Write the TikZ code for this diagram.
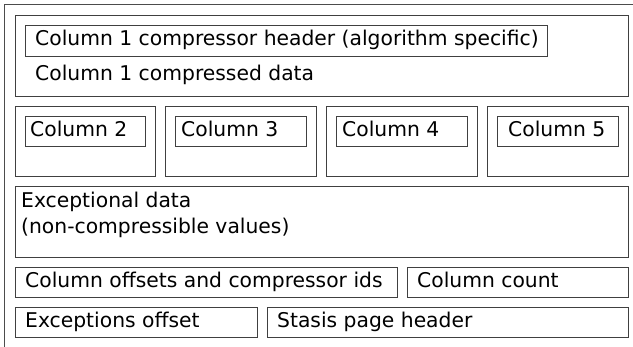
\documentclass[tikz,border=0pt]{standalone}
\usepackage{fontspec}
\setmainfont{DejaVu Sans}
\tikzset{
  frame/.style={draw=black!70, line width=1pt},
  blk/.style={draw=black!75, line width=1pt, anchor=north west, inner sep=0pt, minimum height=#1},
  slot/.style n args={3}{draw=black!75, line width=1pt, anchor=north west, inner sep=0pt,
    minimum width=#1, minimum height=30,
    label={[anchor=base west, inner sep=0pt, xshift=#2pt, yshift=-5pt]west:#3}},
}
\begin{document}
\begin{tikzpicture}[x=1pt, y=-1pt, font=\fontsize{20.3}{26}\selectfont]
    \useasboundingbox (0,0) rectangle (633,347);
    \clip (0,0) rectangle (633,347);
    \draw[frame] (4,5) rectangle (660,370);
    % column 1
    \node[blk=81, minimum width=613] (col1) at (15,15) {};
    \node[slot={522}{10}{Column 1 compressor header (algorithm specific)}, minimum height=31] (hdr1) at (25,25) {};
    \node[anchor=base west, inner sep=0pt] (data1) at (35,81) {Column 1 compressed data};
    % columns 2 to 5
    \foreach \n/\x/\w/\off in {2/15/140/5, 3/165/151/6, 4/326/151/6, 5/487/141/11}{
      \node[blk=70, minimum width=\w] (col\n) at (\x,106) {};
      \node[slot={\w-20}{\off}{Column \n}] (hdr\n) at (\x+10,116) {};
    }
    % exceptional data
    \node[blk=71, minimum width=613,
      label={[anchor=north west, align=left, inner sep=0pt, xshift=6pt, yshift=-5.5pt]north west:Exceptional data\\(non-compressible values)}] (exc) at (15,186) {};
    % offsets, count, page header
    \node[slot={382}{10}{Column offsets and compressor ids}] (offs) at (15,267) {};
    \node[slot={221}{10}{Column count}] (cnt) at (407,267) {};
    \node[slot={242}{10}{Exceptions offset}] (excoff) at (15,307) {};
    \node[slot={361}{10}{Stasis page header}] (pghdr) at (267,307) {};
\end{tikzpicture}
\end{document}
